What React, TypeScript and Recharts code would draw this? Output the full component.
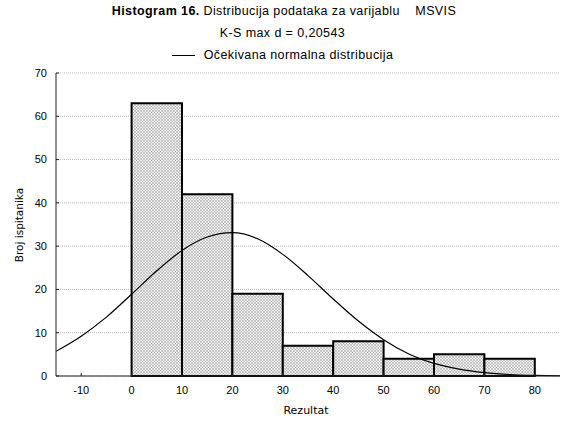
import React from "react";
import {
  ComposedChart,
  Line,
  XAxis,
  YAxis,
  CartesianGrid,
  ReferenceArea,
} from "recharts";

// histogram bins (lower edge) and counts
const binStarts = [0, 10, 20, 30, 40, 50, 60, 70];
const binWidth = 10;
const counts = [63, 42, 19, 7, 8, 4, 5, 4];

// expected normal curve
const curveX = [-15, -10, -5, 0, 5, 10, 15, 20, 25, 30, 35, 40, 45, 50, 55, 60, 65, 70, 75, 80, 85];
const curveY = [5.7, 9.2, 13.6, 18.9, 24.3, 29.0, 32.1, 33.1, 31.7, 28.1, 23.2, 17.8, 12.7, 8.4, 5.1, 2.9, 1.6, 0.8, 0.35, 0.15, 0.06];

const xTicks = [-10, 0, 10, 20, 30, 40, 50, 60, 70, 80];
const yTicks = [0, 10, 20, 30, 40, 50, 60, 70];

const curveData = curveX.map((x, i) => ({ x, y: curveY[i] }));

const tickStyle = { fontSize: 11, fill: "#000", fontFamily: "'Liberation Sans', Arial, sans-serif" };

const App = () => {
  return (
    <div style={{ position: "absolute", left: 0, top: 0, width: 562, height: 427, background: "#fff" }}>
      <div
        style={{
          position: "absolute",
          top: 0,
          left: 3,
          width: 562,
          textAlign: "center",
          fontFamily: "'Liberation Sans', Arial, sans-serif",
          fontSize: 12.5,
          letterSpacing: 0.4,
          lineHeight: "22px",
          color: "#000",
        }}
      >
        <div>
          <b>Histogram 16.</b> Distribucija podataka za varijablu&nbsp;&nbsp;&nbsp; MSVIS
        </div>
        <div style={{ marginLeft: -3 }}>K-S max d = 0,20543</div>
        <div style={{ marginLeft: -3 }}>
          <span
            style={{
              display: "inline-block",
              width: 23,
              borderTop: "1px solid #000",
              verticalAlign: "middle",
              marginRight: 9,
            }}
          />
          Očekivana normalna distribucija
        </div>
      </div>

      <ComposedChart
        width={562}
        height={427}
        data={curveData}
        margin={{ top: 73, right: 2, bottom: 0, left: 0 }}
      >
        <defs>
          <pattern id="hatch" width="3" height="3" patternUnits="userSpaceOnUse">
            <rect width="3" height="3" fill="#eeeeee" />
            <path d="M0,3 L3,0 M0,0 L3,3" stroke="#a0a0a0" strokeWidth="0.5" />
          </pattern>
        </defs>
        <CartesianGrid vertical={false} stroke="#b8b8b8" strokeDasharray="1 1" />
        <XAxis
          dataKey="x"
          type="number"
          domain={[-15, 85]}
          ticks={xTicks}
          height={51}
          tickSize={-3}
          tickMargin={13}
          tick={tickStyle}
          stroke="#222"
          allowDataOverflow
        />
        <XAxis
          xAxisId="top"
          dataKey="x"
          type="number"
          orientation="top"
          mirror
          domain={[-15, 85]}
          ticks={xTicks}
          height={0}
          tickSize={3}
          tick={false}
          stroke="#222"
        />
        <YAxis
          type="number"
          domain={[0, 70]}
          ticks={yTicks}
          width={56}
          tickSize={-3}
          tickMargin={12}
          tick={tickStyle}
          stroke="#222"
        />
        <YAxis
          yAxisId="right"
          type="number"
          orientation="right"
          mirror
          domain={[0, 70]}
          ticks={yTicks}
          width={0}
          tickSize={3}
          tick={false}
          stroke="#222"
        />
        {binStarts.map((b, i) => (
          <ReferenceArea
            key={b}
            x1={b}
            x2={b + binWidth}
            y1={0}
            y2={counts[i]}
            fill="url(#hatch)"
            fillOpacity={1}
            stroke="#000"
            strokeWidth={2}
          />
        ))}
        <Line
          dataKey="y"
          type="monotone"
          stroke="#000"
          strokeWidth={1.2}
          dot={false}
          isAnimationActive={false}
        />
      </ComposedChart>

      <div
        style={{
          position: "absolute",
          left: 0,
          width: 612,
          top: 404,
          textAlign: "center",
          fontFamily: "'DejaVu Sans', Verdana, sans-serif",
          fontSize: 11,
          color: "#000",
        }}
      >
        Rezultat
      </div>
      <div
        style={{
          position: "absolute",
          left: 19,
          top: 225,
          transform: "translate(-50%, -50%) rotate(-90deg)",
          whiteSpace: "nowrap",
          fontFamily: "'DejaVu Sans', Verdana, sans-serif",
          fontSize: 10.5,
          color: "#000",
        }}
      >
        Broj ispitanika
      </div>
    </div>
  );
};

export default App;
